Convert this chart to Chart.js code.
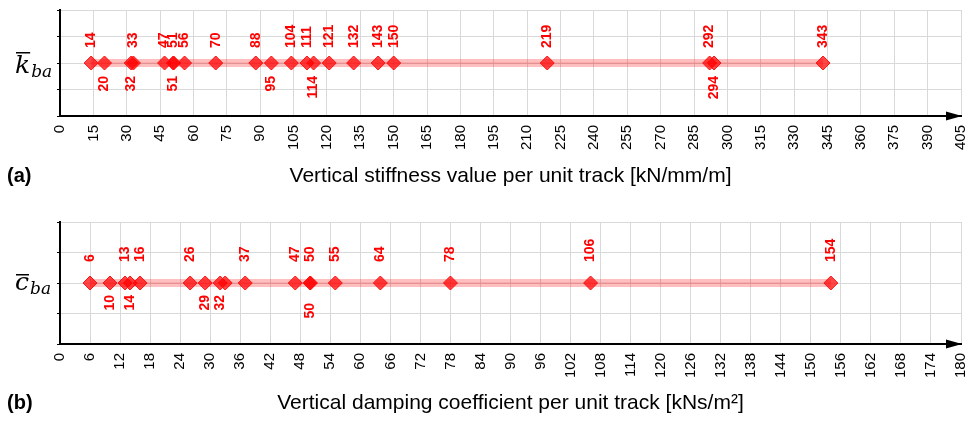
<!DOCTYPE html>
<html>
<head>
<meta charset="utf-8">
<script src="https://cdn.jsdelivr.net/npm/chart.js@4.4.0/dist/chart.umd.min.js"></script>
<style>
  html, body { margin: 0; padding: 0; background: #fff; }
  .box { position: relative; width: 969px; }
</style>
</head>
<body>
<div class="box" style="height:200px"><canvas id="stiffChart"></canvas></div>
<div class="box" style="height:224px"><canvas id="dampChart"></canvas></div>
<script>
// (a) vertical stiffness per unit track [kN/mm/m]
const stiffValues = [14, 20, 32, 33, 47, 51, 51, 56, 70, 88, 95, 104, 111, 114, 121, 132, 143, 150, 219, 292, 294, 343];
// label side: 1 above, -1 below, -2 further below, 0 none
const stiffSides = [1, -1, -1, 1, 1, 1, -1, 1, 1, 1, -1, 1, 1, -1, 1, 1, 1, 1, 1, 1, -1, 1];
const stiffAxis = { min: 0, max: 405, step: 15 };

// (b) vertical damping per unit track [kNs/m²]
const dampValues = [6, 10, 13, 14, 16, 26, 29, 32, 33, 37, 47, 50, 50, 55, 64, 78, 106, 154];
const dampSides = [1, -1, 1, -1, 1, 1, -1, -1, 0, 1, 1, 1, -2, 1, 1, 1, 1, 1];
const dampAxis = { min: 0, max: 180, step: 6 };

const SANS = '"Liberation Sans", Arial, sans-serif';
const GRID = '#d9d9d9';

const pointLabels = {
  id: 'pointLabels',
  afterDatasetsDraw(chart, args, o) {
    const meta = chart.getDatasetMeta(2);
    const vals = chart.data.datasets[2].data;
    const ctx = chart.ctx;
    ctx.save();
    ctx.fillStyle = '#ff0000';
    ctx.font = 'bold 14px ' + SANS;
    ctx.textBaseline = 'middle';
    meta.data.forEach((pt, i) => {
      const side = o.sides[i];
      if (!side) return;
      ctx.save();
      ctx.translate(pt.x, pt.y);
      ctx.rotate(-Math.PI / 2);
      const txt = String(vals[i].x);
      if (side > 0) {
        ctx.textAlign = 'left';
        ctx.fillText(txt, o.up, 0);
      } else {
        ctx.textAlign = 'right';
        ctx.fillText(txt, side === -1 ? -o.down : -o.down2, 0);
      }
      ctx.restore();
    });
    ctx.restore();
  }
};

const extras = {
  id: 'extras',
  afterDraw(chart, args, o) {
    const ctx = chart.ctx;
    const a = chart.chartArea;
    ctx.save();
    // arrow on the x axis
    ctx.fillStyle = '#000';
    ctx.beginPath();
    ctx.moveTo(a.right + 1, a.bottom);
    ctx.lineTo(a.right - 15, a.bottom - 4.5);
    ctx.lineTo(a.right - 15, a.bottom + 4.5);
    ctx.closePath();
    ctx.fill();

    // panel letter
    ctx.font = 'bold 20px ' + SANS;
    ctx.textAlign = 'left';
    ctx.textBaseline = 'middle';
    ctx.fillText(o.panel, 7, o.panelY);

    // y label with overbar and subscript
    const midY = chart.scales.y.getPixelForValue(2);
    const base = midY + o.symShift;
    ctx.font = 'italic 25px "DejaVu Serif", serif';
    ctx.textBaseline = 'alphabetic';
    const m = ctx.measureText(o.sym);
    ctx.fillText(o.sym, 15, base);
    const barY = base - m.actualBoundingBoxAscent - 3;
    ctx.fillRect(16, barY, m.width - 1, 1.5);
    ctx.font = 'italic 17px "DejaVu Serif", serif';
    ctx.fillText('ba', 15 + m.width + 1, base + 4);
    ctx.restore();
  }
};

function makeChart(id, values, sides, axis, title, opt) {
  const pts = values.map(v => ({ x: v, y: 2 }));
  return new Chart(document.getElementById(id), {
    type: 'scatter',
    data: {
      datasets: [
        {
          data: pts,
          showLine: true,
          borderColor: 'rgba(255,0,0,0.25)',
          borderWidth: 8,
          pointRadius: 0,
          order: 3
        },
        {
          data: pts,
          showLine: true,
          borderColor: 'rgba(230,60,60,0.3)',
          borderWidth: 1,
          pointRadius: 0,
          order: 2
        },
        {
          data: pts,
          pointStyle: 'rectRot',
          pointRadius: 7,
          backgroundColor: 'rgba(255,0,0,0.72)',
          borderColor: '#ff1010',
          borderWidth: 1,
          order: 1
        }
      ]
    },
    options: {
      responsive: true,
      maintainAspectRatio: false,
      animation: false,
      layout: { padding: { left: 57, right: 6, top: opt.top, bottom: 0 } },
      scales: {
        x: {
          type: 'linear',
          min: axis.min,
          max: axis.max,
          ticks: {
            stepSize: axis.step,
            autoSkip: false,
            maxRotation: 90,
            minRotation: 90,
            padding: 9,
            color: '#000',
            font: { size: 15, family: SANS }
          },
          grid: { color: GRID, drawTicks: false },
          border: { color: '#000', width: 2 },
          title: {
            display: true,
            text: title,
            color: '#000',
            font: { size: 21, family: SANS },
            padding: { top: 0, bottom: opt.titlePad }
          },
          afterFit: s => { s.height = opt.xHeight; s.paddingLeft = 0; s.paddingRight = 0; }
        },
        y: {
          min: 0,
          max: 4,
          ticks: { stepSize: 1, display: false },
          grid: { color: GRID, tickColor: '#000', tickLength: 3 },
          border: { color: '#000', width: 2 },
          afterFit: s => { s.width = 3; }
        }
      },
      plugins: {
        legend: { display: false },
        tooltip: { enabled: false },
        pointLabels: { sides: sides, up: opt.up, down: opt.down, down2: opt.down2 },
        extras: { panel: opt.panel, panelY: opt.panelY, sym: opt.sym, symShift: opt.symShift }
      }
    },
    plugins: [pointLabels, extras]
  });
}

makeChart('stiffChart', stiffValues, stiffSides, stiffAxis,
  'Vertical stiffness value per unit track [kN/mm/m]',
  { top: 10, xHeight: 84, titlePad: 11.4, up: 15, down: 13, down2: 20,
    panel: '(a)', panelY: 176, sym: 'k', symShift: 10 });

makeChart('dampChart', dampValues, dampSides, dampAxis,
  'Vertical damping coefficient per unit track [kNs/m²]',
  { top: 22, xHeight: 80, titlePad: 8.4, up: 21, down: 12, down2: 20,
    panel: '(b)', panelY: 203, sym: 'c', symShift: 7 });
</script>
</body>
</html>
